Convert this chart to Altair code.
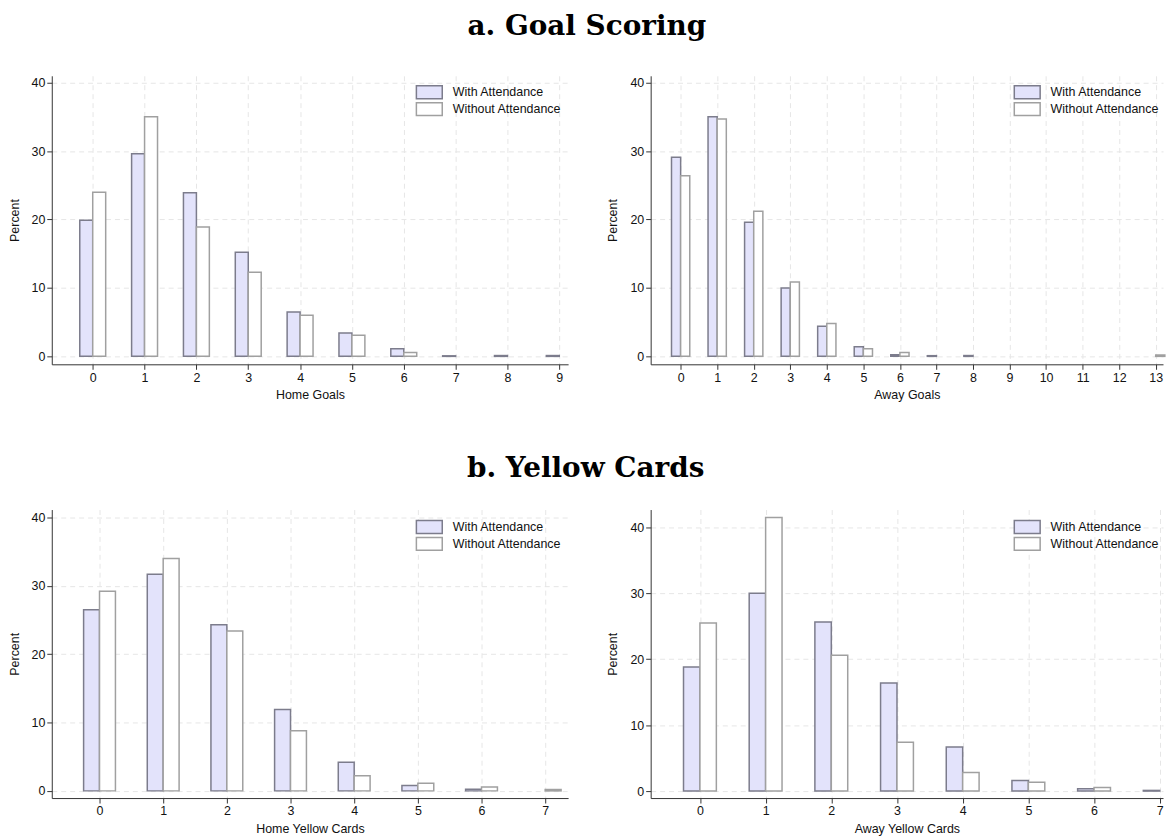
import altair as alt
import pandas as pd

SERIES = ["With Attendance", "Without Attendance"]

# Home goals
hg_k = [0, 1, 2, 3, 4, 5, 6, 7, 8, 9]
hg_with = [19.9, 29.6, 23.9, 15.2, 6.5, 3.4, 1.1, 0.08, 0.12, 0.12]
hg_without = [24.0, 35.0, 18.9, 12.3, 6.0, 3.1, 0.55, None, None, None]

# Away goals
ag_k = [0, 1, 2, 3, 4, 5, 6, 7, 8, 9, 10, 11, 12, 13]
ag_with = [29.1, 35.0, 19.6, 10.0, 4.4, 1.4, 0.25, 0.1, 0.12, None, None, None, None, None]
ag_without = [26.4, 34.7, 21.2, 10.85, 4.8, 1.1, 0.55, None, None, None, None, None, None, 0.2]

# Home yellow cards
hy_k = [0, 1, 2, 3, 4, 5, 6, 7]
hy_with = [26.5, 31.7, 24.3, 11.9, 4.2, 0.8, 0.25, None]
hy_without = [29.2, 34.0, 23.4, 8.8, 2.2, 1.1, 0.55, 0.2]

# Away yellow cards
ay_k = [0, 1, 2, 3, 4, 5, 6, 7]
ay_with = [18.8, 30.0, 25.65, 16.4, 6.7, 1.6, 0.35, 0.1]
ay_without = [25.5, 41.5, 20.6, 7.4, 2.8, 1.35, 0.55, None]

FILLS = ["#e3e3fb", "#ffffff"]
STROKES = ["#7c7c8c", "#a0a0a0"]
FONT = "Liberation Sans"


def make_df(ks, w, wo):
    rows = []
    for k, a, b in zip(ks, w, wo):
        if a is not None:
            rows.append({"k": k, "series": SERIES[0], "pct": a, "side": -1})
        if b is not None:
            rows.append({"k": k, "series": SERIES[1], "pct": b, "side": 0})
    return pd.DataFrame(rows)


def panel(ks, w, wo, xtitle, xdom, ydom, width, height, lx, ly):
    df = make_df(ks, w, wo)
    legend = alt.Legend(
        title=None, orient="none", legendX=lx, legendY=ly, padding=0,
        symbolType="M-2,-1H2V1H-2Z", symbolSize=169,
        symbolStrokeWidth=1.5, labelFont=FONT, labelFontSize=12.5,
        labelColor="#111", labelOffset=16, rowPadding=-2, symbolOpacity=1,
    )
    base = alt.Chart(df).transform_calculate(
        x0="datum.k + datum.side * 0.25",
        x1="datum.k + datum.side * 0.25 + 0.25",
    )
    bars = base.mark_bar(strokeWidth=1.5, opacity=1, fillOpacity=1).encode(
        x=alt.X("x0:Q", scale=alt.Scale(domain=xdom, nice=False, zero=False),
                axis=alt.Axis(values=ks, format="d", title=xtitle, grid=True)),
        x2="x1:Q",
        y=alt.Y("pct:Q", scale=alt.Scale(domain=ydom, nice=False, zero=False),
                axis=alt.Axis(values=[0, 10, 20, 30, 40], title="Percent", grid=True)),
        y2=alt.datum(0),
        fill=alt.Fill("series:N", scale=alt.Scale(domain=SERIES, range=FILLS), legend=legend),
        stroke=alt.Stroke("series:N", scale=alt.Scale(domain=SERIES, range=STROKES), legend=legend),
    )
    return bars.properties(width=width, height=height)


p1 = panel(hg_k, hg_with, hg_without, "Home Goals", [-0.79, 9.17], [-1.16, 41.0], 519, 290, 372, 9)
p2 = panel(ag_k, ag_with, ag_without, "Away Goals", [-0.82, 13.2], [-1.16, 41.0], 515, 290, 371, 9)
p3 = panel(hy_k, hy_with, hy_without, "Home Yellow Cards", [-0.75, 7.36], [-1.05, 41.15], 519, 290, 372, 10)
p4 = panel(ay_k, ay_with, ay_without, "Away Yellow Cards", [-0.75, 7.05], [-1.06, 42.7], 515, 290, 371, 10)

TITLE_FONT = "DejaVu Serif"

row1 = alt.hconcat(p1, p2, spacing=39).resolve_scale(fill="independent", stroke="independent").properties(
    title=alt.TitleParams("a.  Goal Scoring", anchor="middle", font=TITLE_FONT, fontSize=28,
                          fontWeight="bold", color="#000", offset=35)
)
row2 = alt.hconcat(p3, p4, spacing=39).resolve_scale(fill="independent", stroke="independent").properties(
    title=alt.TitleParams("b.  Yellow Cards", anchor="middle", font=TITLE_FONT, fontSize=28,
                          fontWeight="bold", color="#000", offset=27)
)

chart = alt.vconcat(row1, row2, spacing=54).properties(
    padding={"left": 0, "top": 3, "right": 0, "bottom": 0}
).configure_view(stroke=None).configure_axis(
    labelFont=FONT, titleFont=FONT, labelFontSize=12.5, titleFontSize=12.5,
    labelColor="#111", titleColor="#111", titleFontWeight="normal",
    domainColor="#333", domainWidth=1, tickColor="#333", tickSize=5,
    gridColor="#e6e6e6", gridDash=[5, 4], gridWidth=1, labelPadding=2,
).configure_axisY(
    titlePadding=10, labelAngle=0,
).configure_axisX(
    titlePadding=5,
).configure_concat(spacing=39)

chart.save("out.html", embed_options={"renderer": "svg", "actions": False})
